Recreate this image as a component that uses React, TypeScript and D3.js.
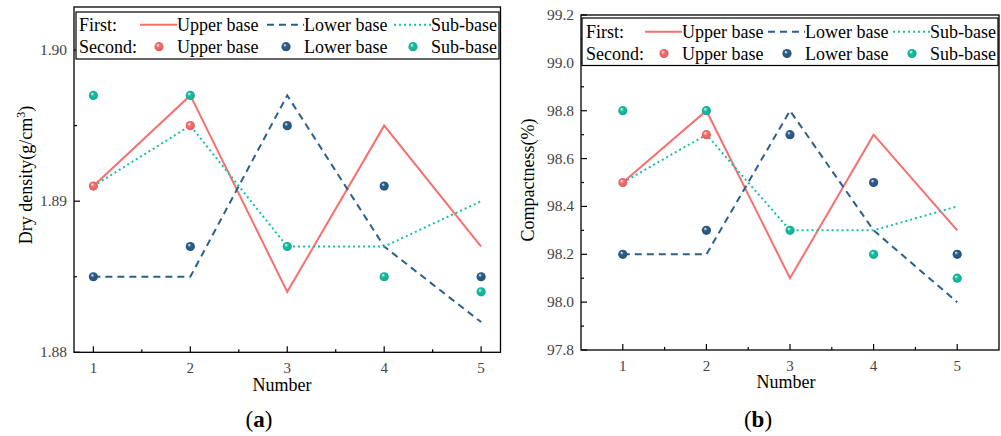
import React from "react";
import * as d3 from "d3";

const numbers = [1, 2, 3, 4, 5];

// Panel (a): dry density
const densFirstUpper = [1.891, 1.897, 1.884, 1.895, 1.887];
const densFirstLower = [1.885, 1.885, 1.897, 1.887, 1.882];
const densFirstSub = [1.891, 1.895, 1.887, 1.887, 1.89];
const densSecondUpper: (number | null)[] = [1.891, 1.895, null, null, null];
const densSecondLower = [1.885, 1.887, 1.895, 1.891, 1.885];
const densSecondSub = [1.897, 1.897, 1.887, 1.885, 1.884];
const densTicks = [1.88, 1.89, 1.9];
const densMinor = [1.885, 1.895];

// Panel (b): compactness
const compFirstUpper = [98.5, 98.8, 98.1, 98.7, 98.3];
const compFirstLower = [98.2, 98.2, 98.8, 98.3, 98.0];
const compFirstSub = [98.5, 98.7, 98.3, 98.3, 98.4];
const compSecondUpper: (number | null)[] = [98.5, 98.7, null, null, null];
const compSecondLower = [98.2, 98.3, 98.7, 98.5, 98.2];
const compSecondSub = [98.8, 98.8, 98.3, 98.2, 98.1];
const compTicks = [97.8, 98.0, 98.2, 98.4, 98.6, 98.8, 99.0, 99.2];
const compMinor = [97.9, 98.1, 98.3, 98.5, 98.7, 98.9, 99.1];

const seriesNames = ["Upper base", "Lower base", "Sub-base"];
const COLORS = ["#F76F6F", "#2B5F8C", "#17BFA3"];
const DASHES = ["none", "7,5", "2,3"];

const SERIF = "'Liberation Serif', 'Times New Roman', serif";

type PanelCfg = {
  id: string;
  left: number; right: number; top: number; bottom: number;
  xDomain: [number, number];
  yDomain: [number, number];
  yTicks: number[]; yMinor: number[]; yFmt: (v: number) => string;
  first: number[][]; second: (number | null)[][];
  yLabel: React.ReactNode; yLabelX: number; yLabelY: number;
  xLabelX: number; xLabelY: number; xTickY: number;
  tag: string; tagX: number;
  legend: { x0: number; x1: number; y0: number; y1: number; firstX: number; lineX: number[]; lineW: number; row1: number; row2: number };
};

const panels: PanelCfg[] = [
  {
    id: "a", left: 74, right: 500.5, top: 7, bottom: 352.3,
    xDomain: [0.8, 5.2], yDomain: [1.88, 1.90285],
    yTicks: densTicks, yMinor: densMinor, yFmt: d3.format(".2f"),
    first: [densFirstUpper, densFirstLower, densFirstSub],
    second: [densSecondUpper, densSecondLower, densSecondSub],
    yLabel: (<>Dry density(g/cm<tspan dy={-7} fontSize={12}>3</tspan><tspan dy={7}>)</tspan></>),
    yLabelX: 26, yLabelY: 175,
    xLabelX: 282, xLabelY: 391, xTickY: 373,
    tag: "a", tagX: 259,
    legend: { x0: 76, x1: 499, y0: 12, y1: 59, firstX: 79, lineX: [140, 267, 394], lineW: 37, row1: 24.7, row2: 46.7 },
  },
  {
    id: "b", left: 581, right: 999, top: 15, bottom: 350,
    xDomain: [0.5, 5.5], yDomain: [97.8, 99.2],
    yTicks: compTicks, yMinor: compMinor, yFmt: d3.format(".1f"),
    first: [compFirstUpper, compFirstLower, compFirstSub],
    second: [compSecondUpper, compSecondLower, compSecondSub],
    yLabel: "Compactness(%)",
    yLabelX: 528, yLabelY: 180,
    xLabelX: 786, xLabelY: 388, xTickY: 371,
    tag: "b", tagX: 758,
    legend: { x0: 582, x1: 998, y0: 18, y1: 65.5, firstX: 586, lineX: [645, 768, 893], lineW: 37, row1: 31.7, row2: 53.5 },
  },
];

function Panel({ p }: { p: PanelCfg }) {
  const x = d3.scaleLinear().domain(p.xDomain).range([p.left, p.right]);
  const y = d3.scaleLinear().domain(p.yDomain).range([p.bottom, p.top]);
  const line = d3.line<number>().x((_, i) => x(numbers[i])).y((d) => y(d));
  const xMinor = [1.5, 2.5, 3.5, 4.5];
  const L = p.legend;
  return (
    <g>
      {/* frame */}
      <rect x={p.left} y={p.top} width={p.right - p.left} height={p.bottom - p.top} fill="none" stroke="#000" strokeWidth={1.3} />
      {/* x ticks */}
      {numbers.map((n) => (
        <g key={"xt" + n}>
          <line x1={x(n)} x2={x(n)} y1={p.bottom} y2={p.bottom - 6} stroke="#000" strokeWidth={1.2} />
          <text x={x(n)} y={p.xTickY} textAnchor="middle" fontFamily={SERIF} fontSize={15} fill="#444">{n}</text>
        </g>
      ))}
      {xMinor.map((n) => (
        <line key={"xm" + n} x1={x(n)} x2={x(n)} y1={p.bottom} y2={p.bottom - 3} stroke="#000" strokeWidth={1.2} />
      ))}
      {/* y ticks */}
      {p.yTicks.map((t) => (
        <g key={"yt" + t}>
          <line x1={p.left} x2={p.left + 6} y1={y(t)} y2={y(t)} stroke="#000" strokeWidth={1.2} />
          <text x={p.left - 7} y={y(t) + 5} textAnchor="end" fontFamily={SERIF} fontSize={15.5} fill="#444">{p.yFmt(t)}</text>
        </g>
      ))}
      {p.yMinor.map((t) => (
        <line key={"ym" + t} x1={p.left} x2={p.left + 3} y1={y(t)} y2={y(t)} stroke="#000" strokeWidth={1.2} />
      ))}
      {/* lines */}
      {p.first.map((vals, i) => (
        <path key={"l" + i} d={line(vals) || ""} fill="none" stroke={COLORS[i]} strokeWidth={2} strokeDasharray={DASHES[i]} />
      ))}
      {/* points */}
      {p.second.map((vals, i) =>
        vals.map((v, j) =>
          v == null ? null : (
            <circle key={"p" + i + "-" + j} cx={x(numbers[j])} cy={y(v)} r={4.6} fill={`url(#sph${i})`} />
          )
        )
      )}
      {/* legend */}
      <rect x={L.x0} y={L.y0} width={L.x1 - L.x0} height={L.y1 - L.y0} fill="#fff" stroke="#000" strokeWidth={1.2} />
      <text x={L.firstX} y={L.row1 + 6} fontFamily={SERIF} fontSize={18} fill="#000">First:</text>
      <text x={L.firstX} y={L.row2 + 6} fontFamily={SERIF} fontSize={18} fill="#000">Second:</text>
      {seriesNames.map((s, i) => (
        <g key={"lg" + i}>
          <line x1={L.lineX[i]} x2={L.lineX[i] + L.lineW} y1={L.row1} y2={L.row1} stroke={COLORS[i]} strokeWidth={2} strokeDasharray={DASHES[i]} />
          <text x={L.lineX[i] + L.lineW} y={L.row1 + 6} fontFamily={SERIF} fontSize={18} fill="#000">{s}</text>
          <circle cx={L.lineX[i] + 19} cy={L.row2} r={4.6} fill={`url(#sph${i})`} />
          <text x={L.lineX[i] + L.lineW} y={L.row2 + 6} fontFamily={SERIF} fontSize={18} fill="#000">{s}</text>
        </g>
      ))}
      {/* axis labels */}
      <text x={p.xLabelX} y={p.xLabelY} textAnchor="middle" fontFamily={SERIF} fontSize={18} fill="#000">Number</text>
      <text transform={`translate(${p.yLabelX},${p.yLabelY}) rotate(-90)`} textAnchor="middle" dy={6} fontFamily={SERIF} fontSize={18} fill="#000">{p.yLabel}</text>
      <text x={p.tagX} y={427} textAnchor="middle" fontFamily={SERIF} fontSize={23} fill="#000">(<tspan fontWeight="bold">{p.tag}</tspan>)</text>
    </g>
  );
}

export default function App() {
  return (
    <svg width={1001} height={436} style={{ position: "absolute", left: 0, top: 0, background: "#fff" }}>
      <defs>
        {COLORS.map((c, i) => (
          <radialGradient key={i} id={`sph${i}`} cx="50%" cy="50%" r="55%" fx="35%" fy="30%">
            <stop offset="0%" stopColor="#ffffff" />
            <stop offset="35%" stopColor={c} />
            <stop offset="100%" stopColor={d3.color(c)!.darker(0.4).toString()} />
          </radialGradient>
        ))}
      </defs>
      <rect width={1001} height={436} fill="#fff" />
      {panels.map((p) => (
        <Panel key={p.id} p={p} />
      ))}
    </svg>
  );
}
